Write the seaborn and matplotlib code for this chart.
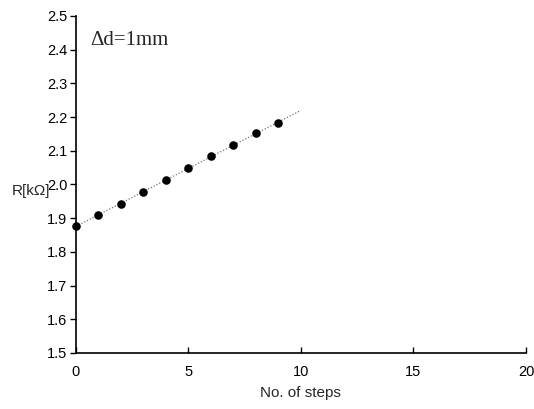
import numpy as np
import matplotlib
matplotlib.use("Agg")
import matplotlib.pyplot as plt
import seaborn as sns

steps = [0, 1, 2, 3, 4, 5, 6, 7, 8, 9]
resistance = [1.877, 1.909, 1.941, 1.979, 2.013, 2.048, 2.084, 2.117, 2.153, 2.182]
fit_range = [0, 10]
x_ticks = [0, 5, 10, 15, 20]
y_ticks = [1.5, 1.6, 1.7, 1.8, 1.9, 2.0, 2.1, 2.2, 2.3, 2.4, 2.5]

sns.set_theme(style="ticks")
plt.rcParams['font.family'] = ['Liberation Sans', 'DejaVu Sans']

fig = plt.figure(figsize=(5.34, 4.09), dpi=100)
ax = fig.add_axes([0.142, 0.137, 0.843, 0.824])

# linear fit through the points
slope, intercept = np.polyfit(steps, resistance, 1)
fit_x = np.array(fit_range, dtype=float)
sns.lineplot(x=fit_x, y=slope * fit_x + intercept, ax=ax, color="0.45",
             linestyle=(0, (1, 1.5)), linewidth=0.9)
sns.scatterplot(x=steps, y=resistance, ax=ax, color="black", s=38,
                edgecolor="black", linewidth=0, zorder=3, clip_on=False)

ax.set_xlim(0, 20)
ax.set_ylim(1.5, 2.5)
ax.set_xticks(x_ticks)
ax.set_yticks(y_ticks)
ax.set_yticklabels([f"{v:.1f}" for v in y_ticks])
sns.despine(ax=ax)
for s in ["left", "bottom"]:
    ax.spines[s].set_linewidth(1.2)
    ax.spines[s].set_color("black")
ax.tick_params(axis="x", direction="in", length=4, width=1, labelsize=10.5,
               colors="black", pad=9)
ax.tick_params(axis="y", direction="out", length=4, width=1, labelsize=10.5,
               colors="black", pad=2)

ax.set_xlabel("No. of steps", fontsize=11, labelpad=5)
ax.set_ylabel("R[k\u03a9]", fontsize=11, rotation=0, ha="right", va="center")
ax.yaxis.set_label_coords(-0.057, 0.48)

ax.text(0.032, 0.955, "\u0394d=1mm", transform=ax.transAxes, fontsize=15,
        family=["Liberation Serif", "DejaVu Serif"], va="top", ha="left")

fig.savefig("out.png", dpi=100)
